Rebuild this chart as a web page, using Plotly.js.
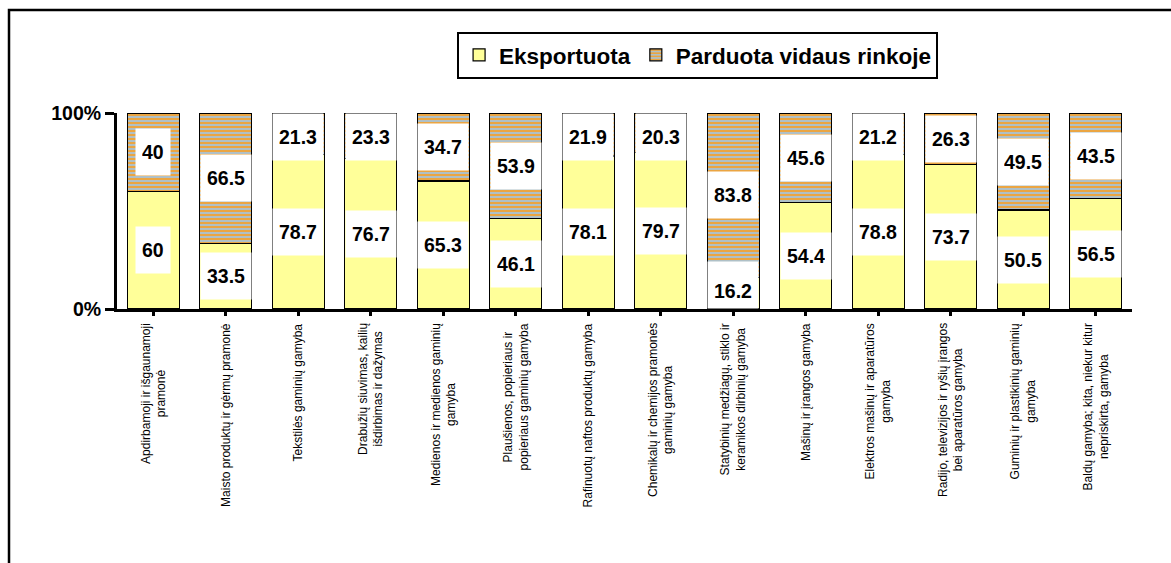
<!DOCTYPE html>
<html>
<head>
<meta charset="utf-8">
<script src="https://cdn.plot.ly/plotly-3.0.1.min.js"></script>
<style>html,body{margin:0;padding:0;background:#fff;}#chart{width:1171px;height:563px;}</style>
</head>
<body>
<div id="chart"></div>
<script>
const categories = [
  "Apdirbamoji ir išgaunamoji<br>pramonė",
  "Maisto produktų ir gėrmų pramonė",
  "Tekstilės gaminių gamyba",
  "Drabužių siuvimas, kailių<br>išdirbimas ir dažymas",
  "Medienos ir medienos gaminių<br>gamyba",
  "Plaušienos, popieriaus ir<br>popieriaus gaminių gamyba",
  "Rafinuotų naftos produktų gamyba",
  "Chemikalų ir chemijos pramonės<br>gaminių gamyba",
  "Statybinių medžiagų, stiklo ir<br>keramikos dirbinių gamyba",
  "Mašinų ir įrangos gamyba",
  "Elektros mašinų ir aparatūros<br>gamyba",
  "Radijo, televizijos ir ryšių įrangos<br>bei aparatūros gamyba",
  "Guminių ir plastikinių gaminių<br>gamyba",
  "Baldų gamyba; kita, niekur kitur<br>nepriskirta, gamyba"
];
const exported = [60, 33.5, 78.7, 76.7, 65.3, 46.1, 78.1, 79.7, 16.2, 54.4, 78.8, 73.7, 50.5, 56.5];
const domestic = [40, 66.5, 21.3, 23.3, 34.7, 53.9, 21.9, 20.3, 83.8, 45.6, 21.2, 26.3, 49.5, 43.5];
const seriesNames = ["Eksportuota", "Parduota vidaus rinkoje"];
const yTickVals = [0, 100];
const yTickText = ["0%", "100%"];

const FONT = "Liberation Sans, Arial, sans-serif";
const idx = categories.map((c, i) => i);

const traces = [
  {
    type: "bar", name: seriesNames[0], x: idx, y: exported,
    width: 0.72,
    marker: {color: "#ffff99", line: {color: "#000", width: 1.2}},
    hoverinfo: "skip"
  },
  {
    type: "bar", name: seriesNames[1], x: idx, y: domestic,
    width: 0.72,
    marker: {color: "#a9c3d6", line: {color: "#000", width: 1.2},
      pattern: {shape: "-", fgcolor: "#eba542", bgcolor: "#a9c3d6", size: 4, solidity: 0.55}},
    hoverinfo: "skip"
  }
];

const annotations = [];
const halfBox = 11.7; // approx half label box height in % units
function valueLabel(xi, val, lower) {
  let mid = lower + val / 2;
  let y = mid, ya = "middle", va = "middle";
  if (mid + halfBox > 100) { y = 100; ya = "top"; }
  else if (mid - halfBox < 0) { y = 0; ya = "bottom"; va = "bottom"; }
  annotations.push({
    x: xi, y: y, xref: "x", yref: "y", yanchor: ya, xanchor: "center", valign: va,
    text: String(val), showarrow: false, bgcolor: "#ffffff",
    borderpad: 6, height: 34,
    font: {family: FONT, size: 19.5, color: "#000", weight: "bold"}
  });
}
idx.forEach(i => {
  valueLabel(i, exported[i], 0);
  valueLabel(i, domestic[i], exported[i]);
  annotations.push({
    x: i, y: -0.062, xref: "x", yref: "paper", xanchor: "center", yanchor: "top",
    text: categories[i], textangle: -90, align: "center", showarrow: false,
    font: {family: FONT, size: 12, color: "#000"}
  });
});

const layout = {
  width: 1171, height: 563,
  margin: {l: 117, r: 39, t: 113, b: 254},
  paper_bgcolor: "#fff", plot_bgcolor: "#fff",
  barmode: "stack",
  showlegend: true,
  legend: {
    orientation: "h", x: 0.572, xanchor: "center", y: 1.415, yanchor: "top",
    bordercolor: "#000", borderwidth: 2, bgcolor: "#fff",
    font: {family: FONT, size: 22.5, color: "#000", weight: "bold"},
    traceorder: "normal", itemwidth: 30
  },
  xaxis: {
    range: [-0.5, 13.5], tickvals: idx, showticklabels: false,
    tickson: "boundaries", ticks: "outside", ticklen: 4, tickwidth: 3, tickcolor: "#000",
    showline: true, linecolor: "#000", linewidth: 3, showgrid: false, zeroline: false,
    fixedrange: true
  },
  yaxis: {
    range: [0, 100], tickvals: yTickVals, ticktext: yTickText,
    ticks: "outside", ticklen: 9, tickwidth: 3, tickcolor: "#000",
    showline: true, linecolor: "#000", linewidth: 3, showgrid: false, zeroline: false,
    tickfont: {family: FONT, size: 19.5, color: "#000", weight: "bold"},
    fixedrange: true
  },
  annotations: annotations,
  shapes: [{
    type: "rect", xref: "paper", yref: "paper",
    x0: -0.1064, x1: 1.2, y0: -3, y1: 1.5255,
    line: {color: "#000", width: 2.5}, fillcolor: "rgba(0,0,0,0)", layer: "below"
  }]
};

Plotly.newPlot("chart", traces, layout, {displayModeBar: false, staticPlot: true});
</script>
</body>
</html>
